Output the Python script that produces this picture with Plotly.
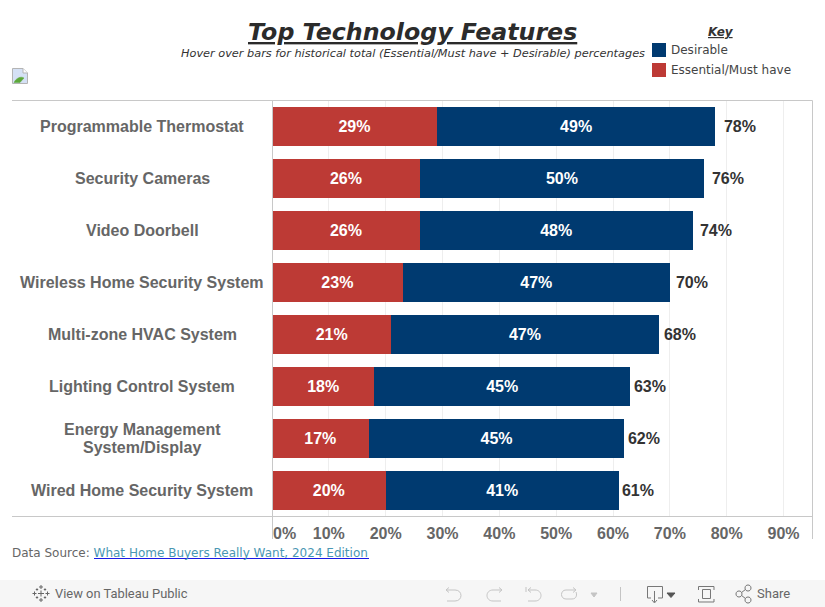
import re
import plotly.graph_objects as go

W, H = 825, 607
features = ["Programmable Thermostat", "Security Cameras", "Video Doorbell",
            "Wireless Home Security System", "Multi-zone HVAC System",
            "Lighting Control System", "Energy Management<br>System/Display",
            "Wired Home Security System"]
essential = [29, 26, 26, 23, 21, 18, 17, 20]
desirable = [49, 50, 48, 47, 47, 45, 45, 41]
totals = [78, 76, 74, 70, 68, 63, 62, 61]
x_ticks = [10, 20, 30, 40, 50, 60, 70, 80, 90]
x_ticktext = ["10%", "20%", "30%", "40%", "50%", "60%", "70%", "80%", "90%"]

BLUE, RED = "#003a70", "#bd3a35"
GREY, LINE = "#666666", "#c8c8c8"
BAR_FONT = "Liberation Sans"
UI_FONT = "DejaVu Sans"


def X(v):
    return v / W


def Y(v):
    return 1 - v / H


def path(d):
    """Convert an SVG path in page pixels to paper coordinates."""
    n = [0]

    def conv(m):
        v = float(m.group(0))
        out = X(v) if n[0] % 2 == 0 else Y(v)
        n[0] += 1
        return f"{out:.5f}"
    return re.sub(r"-?\d+\.?\d*", conv, d)


shapes = []


def add_path(d, color="#999999", width=1, fill=None):
    s = dict(type="path", xref="paper", yref="paper", path=path(d),
             line=dict(color=color, width=width), layer="above")
    if fill:
        s["fillcolor"] = fill
    shapes.append(s)


def add_line(x0, y0, x1, y1, color=LINE, width=1):
    shapes.append(dict(type="line", xref="paper", yref="paper", x0=X(x0), y0=Y(y0),
                       x1=X(x1), y1=Y(y1), line=dict(color=color, width=width), layer="above"))


def add_rect(x0, y0, x1, y1, fill, layer="above"):
    shapes.append(dict(type="rect", xref="paper", yref="paper", x0=X(x0), y0=Y(y0),
                       x1=X(x1), y1=Y(y1), fillcolor=fill, line=dict(width=0), layer=layer))


annotations = []


def text(x, y, s, size, color="#333333", family=UI_FONT, anchor="left", **kw):
    annotations.append(dict(x=X(x), y=Y(y), xref="paper", yref="paper", text=s, showarrow=False,
                            xanchor=anchor, yanchor="middle", align=anchor,
                            font=dict(size=size, color=color, family=family), **kw))


fig = go.Figure()
fig.add_bar(y=features, x=essential, orientation="h", name="Essential/Must have",
            marker=dict(color=RED, line=dict(width=0)), text=[f"{v}%" for v in essential],
            textposition="inside", insidetextanchor="middle", textangle=0,
            textfont=dict(family=BAR_FONT, size=16, color="white", weight="bold"))
fig.add_bar(y=features, x=desirable, orientation="h", name="Desirable",
            marker=dict(color=BLUE, line=dict(width=0)), text=[f"{v}%" for v in desirable],
            textposition="inside", insidetextanchor="middle", textangle=0,
            textfont=dict(family=BAR_FONT, size=16, color="white", weight="bold"))
# totals sit on their own hidden axis pair (a dual-axis label layer, 6 px per point)
fig.add_scatter(y=features, x=totals, mode="text", text=[f"{v}%" for v in totals],
                textposition="middle right", showlegend=False, xaxis="x2", yaxis="y2",
                textfont=dict(family=BAR_FONT, size=16, color="#333333", weight="bold"))

# category labels centred in the header pane
for f in features:
    lines = f.split("<br>")
    for i, ln in enumerate(lines):
        annotations.append(dict(x=X(142), y=f, xref="paper", yref="y", text=f"<b>{ln}</b>", showarrow=False,
                                xanchor="center", yanchor="middle", align="center",
                                yshift=-(i - (len(lines) - 1) / 2) * 18,
                                font=dict(size=16, color=GREY, family=BAR_FONT)))

# header
text(412, 32, "<b><i><u>Top Technology Features</u></i></b>", 23.7, "#2b2b2b", anchor="center")
text(647, 53, "<i>Hover over bars for historical total (Essential/Must have + Desirable) percentages</i>",
     11.3, "#333333", anchor="right")
text(721, 32, "<b><i><u>Key</u></i></b>", 12, "#333333", anchor="center")
add_rect(652, 43, 666, 57, BLUE)
add_rect(652, 63, 666, 77, RED)
text(669, 50, "Desirable", 12, "#444444")
text(669, 70, "Essential/Must have", 12, "#444444")

# broken image icon
add_path("M12.5 68.5 L23 68.5 L27.5 73 L27.5 83.5 L12.5 83.5 Z", "#b4b4b4", 1, "#d5e1f5")
add_path("M14 82.5 C16 78 21 76 24 78 L20 82.5 Z", "#5da83a", 0.5, "#5da83a")
add_path("M23 68.5 L23 73 L27.5 73", "#b4b4b4", 1, "#ffffff")

# frame lines
add_line(12, 100.5, 812.5, 100.5)
add_line(12, 516.5, 812.5, 516.5)
add_line(272.5, 100.5, 272.5, 539)
add_line(812.5, 100.5, 812.5, 539)

# 0% tick label is pushed right of the pane edge
text(271, 533, "<b>0%</b>", 16, GREY, BAR_FONT)

# footer
text(10, 553, 'Data Source: <a href="https://public.tableau.com"><span style="color:#4a97b3">'
     'What Home Buyers Really Want, 2024 Edition</span></a>', 12, "#666666")
add_line(94, 558.5, 369, 558.5, "#1a1ae6", 1)

# toolbar
add_rect(0, 580, 825, 607, "#f6f6f6", layer="below")
text(53, 593.5, "View on Tableau Public", 12.9, "#666666", "Roboto")
text(755, 593.5, "Share", 13, "#666666", "Roboto")
for cx, cy, r in [(41, 593.5, 3), (41, 587, 2), (41, 600, 2), (34.5, 593.5, 2), (47.5, 593.5, 2),
                  (37, 589.5, 1.2), (45, 589.5, 1.2), (37, 597.5, 1.2), (45, 597.5, 1.2)]:
    add_path(f"M{cx-r} {cy} L{cx+r} {cy} M{cx} {cy-r} L{cx} {cy+r}", "#666666", 1)
L = "#c4c4c4"
add_path("M447 590 L455 590 C463 590 463 601 455 601 L447 601", L)
add_path("M449 587.5 L446 590 L449 592.5", L)
add_path("M501 590 L493 590 C485 590 485 601 493 601 L501 601", L)
add_path("M499 587.5 L502 590 L499 592.5", L)
add_path("M528 590 L535 590 C543 590 543 601 535 601 L528 601", L)
add_path("M526 587 L526 592 M531 587.5 L528 590 L531 592.5", L)
add_path("M575 590 L566 590 C560 590 560 599 566 599 L572 599 C577 599 577 594 576 592", L)
add_path("M573 587.5 L576 590 L573 592.5", L)
add_path("M591 593 L597 593 L594 597 Z", L, 1, L)
add_line(620.5, 587, 620.5, 601, "#c4c4c4")
D = "#777777"
add_path("M651 598 L647.5 598 L647.5 586.5 L662.5 586.5 L662.5 598 L658 598", D)
add_path("M654.5 591 L654.5 602 M652 600 L654.5 603 L657 600", D)
add_path("M667 593 L675 593 L671 597.5 Z", "#555555", 1, "#555555")
add_path("M702.5 589.5 L710.5 589.5 L710.5 598.5 L702.5 598.5 Z", D)
add_path("M698.5 590 L698.5 586.5 L714 586.5 L714 590 M698.5 599 L698.5 602 L714 602 L714 599", D)
for cx, cy in [(748, 588), (739, 594), (748, 600)]:
    add_path(f"M{cx-3} {cy} C{cx-3} {cy-4} {cx+3} {cy-4} {cx+3} {cy} C{cx+3} {cy+4} {cx-3} {cy+4} {cx-3} {cy} Z", D)
add_path("M741.5 592.5 L745.5 589.5 M741.5 595.5 L745.5 598.5", D)

fig.update_layout(
    width=W, height=H, margin=dict(l=0, r=0, t=0, b=0), autosize=False,
    paper_bgcolor="white", plot_bgcolor="white", barmode="stack", bargap=0.25,
    showlegend=False, shapes=shapes, annotations=annotations,
    xaxis=dict(domain=[X(272), X(812)], range=[0, 95], tickvals=x_ticks, ticktext=x_ticktext,
               showgrid=True, gridcolor="#eeeeee", gridwidth=1, zeroline=False, showline=False,
               ticks="", ticklabelstandoff=5, anchor="y",
               tickfont=dict(family=BAR_FONT, size=16, color=GREY, weight="bold")),
    yaxis=dict(domain=[Y(516.5), Y(100.5)], categoryorder="array", categoryarray=features,
               autorange=False, range=[7.5, -0.5], showticklabels=False, ticks="",
               showgrid=False, zeroline=False, showline=False),
    xaxis2=dict(domain=[X(272), X(812)], range=[2.67, 92.67], overlaying="x", visible=False, anchor="y2"),
    yaxis2=dict(domain=[Y(516.5), Y(100.5)], categoryorder="array", categoryarray=features,
                autorange=False, range=[7.465, -0.535], overlaying="y", visible=False, anchor="x2"),
)

fig.write_html("out.html", config={"displayModeBar": False},
               post_script="document.body.style.margin='0';document.body.style.overflow='hidden';")
